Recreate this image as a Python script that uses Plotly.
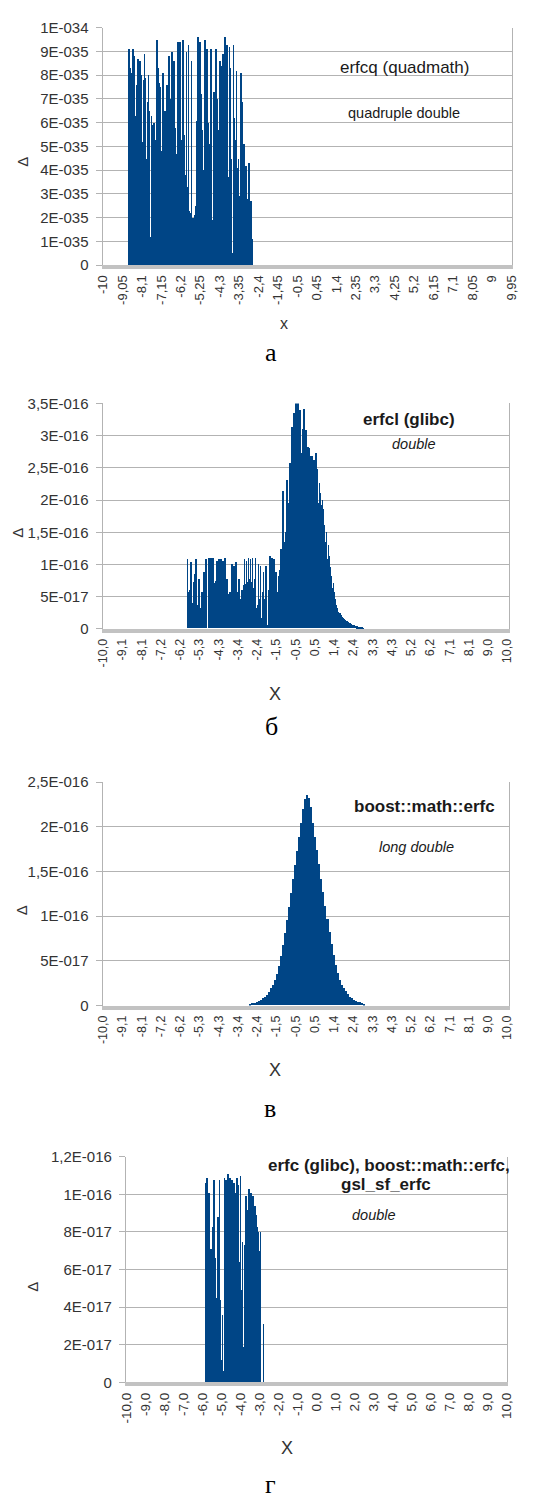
import plotly.graph_objects as go
import numpy as np

# ---------------- data ----------------
# x tick positions (categories) and their labels
TICK_POS = [-10, -9.05, -8.1, -7.15, -6.2, -5.25, -4.3, -3.35, -2.4, -1.45, -0.5,
            0.45, 1.4, 2.35, 3.3, 4.25, 5.2, 6.15, 7.1, 8.05, 9.0, 9.95]
TICK_A = ["-10", "-9,05", "-8,1", "-7,15", "-6,2", "-5,25", "-4,3", "-3,35", "-2,4", "-1,45",
          "-0,5", "0,45", "1,4", "2,35", "3,3", "4,25", "5,2", "6,15", "7,1", "8,05", "9", "9,95"]
TICK_B = ["-10,0", "-9,1", "-8,1", "-7,2", "-6,2", "-5,3", "-4,3", "-3,4", "-2,4", "-1,5",
          "-0,5", "0,5", "1,4", "2,4", "3,3", "4,3", "5,2", "6,2", "7,1", "8,1", "9,0", "10,0"]
TICK_G_POS = [-10, -9, -8, -7, -6, -5, -4, -3, -2, -1, 0, 1, 2, 3, 4, 5, 6, 7, 8, 9, 10]
TICK_G = ["-10,0", "-9,0", "-8,0", "-7,0", "-6,0", "-5,0", "-4,0", "-3,0", "-2,0", "-1,0", "0,0",
          "1,0", "2,0", "3,0", "4,0", "5,0", "6,0", "7,0", "8,0", "9,0", "10,0"]

# y tick labels
YT_A = ["0", "1E-035", "2E-035", "3E-035", "4E-035", "5E-035", "6E-035", "7E-035", "8E-035", "9E-035", "1E-034"]
YT_B = ["0", "5E-017", "1E-016", "1,5E-016", "2E-016", "2,5E-016", "3E-016", "3,5E-016"]
YT_C = ["0", "5E-017", "1E-016", "1,5E-016", "2E-016", "2,5E-016"]
YT_D = ["0", "2E-017", "4E-017", "6E-017", "8E-017", "1E-016", "1,2E-016"]

# (а) erfcq (quadmath): x from -8.75 step 0.05, values in units of 1e-35
A_X0, A_STEP = -8.75, 0.05
A_VAL = [9.1, 8.3, 8.1, 0.3, 9.1, 8.8, 6.3, 5.6, 7.6, 8.7,
         7.7, 8.6, 8.0, 5.2, 7.8, 8.9, 7.9, 4.5, 6.9, 8.0,
         6.5, 1.2, 6.3, 5.9, 6.0, 5.3, 4.9, 9.5, 8.3, 7.7,
         7.5, 4.8, 0.2, 8.1, 4.1, 6.5, 6.0, 7.6, 6.9, 8.8,
         5.8, 7.0, 9.0, 6.3, 8.6, 5.8, 4.7, 1.3, 9.4, 4.2,
         9.4, 5.3, 3.4, 9.5, 5.5, 3.8, 9.0, 3.3, 9.3, 2.3,
         2.2, 8.6, 2.0, 2.0, 2.1, 2.5, 6.1, 9.6, 5.8, 9.4,
         7.2, 5.7, 4.0, 2.5, 9.5, 7.2, 9.1, 6.0, 5.1, 2.3,
         9.1, 1.9, 0.4, 7.3, 7.0, 9.1, 7.0, 5.7, 0.2, 8.6,
         3.6, 8.4, 8.9, 2.7, 9.6, 2.7, 9.3, 3.7, 9.2, 8.3,
         4.5, 0.5, 9.3, 6.2, 5.3, 8.2, 4.1, 4.5, 2.9, 8.1,
         6.9, 2.9, 5.1, 2.9, 4.2, 2.7, 2.8, 4.3, 2.6, 2.7, 1.1]

# (б) erfcl (glibc): x from -5.85 step 0.05, values in units of 1e-17
B_X0, B_STEP = -5.85, 0.05
B_VAL = [10.8, 5.7, 6.0, 10.3, 4.0, 2.6, 7.2, 8.5, 10.8, 3.6,
         2.2, 7.7, 2.0, 3.1, 5.7, 3.0, 8.8, 2.5, 10.8, 0.0,
         0.0, 11.0, 3.6, 11.0, 5.7, 10.9, 3.1, 7.0, 7.3, 10.5,
         4.9, 10.8, 3.1, 10.8, 3.6, 10.5, 5.7, 11.0, 5.7, 7.7,
         2.6, 5.3, 5.7, 2.6, 10.0, 3.6, 9.7, 4.6, 10.3, 5.7,
         3.1, 7.7, 4.0, 4.6, 6.0, 6.7, 10.8, 6.9, 10.5, 7.2,
         11.0, 7.7, 10.8, 7.2, 10.9, 6.2, 7.7, 11.0, 3.1, 3.6,
         10.0, 4.6, 9.7, 1.6, 5.7, 8.8, 4.6, 9.7, 0.5, 0.0,
         6.0, 11.3, 5.7, 11.0, 1.6, 10.8, 2.6, 8.8, 5.7, 0.0,
         8.2, 9.0, 12.4, 9.8, 21.3, 10.8, 13.4, 14.9, 23.0, 17.0,
         19.5, 25.7, 21.6, 31.3, 23.0, 33.4, 25.0, 35.0, 28.8, 35.0,
         29.8, 33.9, 26.0, 27.2, 31.0, 34.0, 24.6, 30.8, 26.2, 28.2,
         28.0, 26.7, 25.2, 26.7, 23.5, 26.2, 22.0, 27.2, 24.7, 19.5,
         22.6, 21.0, 19.2, 20.0, 18.5, 16.0, 13.4, 15.0, 10.8, 13.0,
         11.3, 9.5, 8.2, 6.2, 7.0, 5.7, 4.6, 3.6, 3.1, 2.6,
         2.4, 2.1, 1.8, 1.6, 1.4, 1.3, 1.2, 1.1, 1.0, 0.9,
         0.8, 0.7, 0.6, 0.55, 0.5, 0.45, 0.4, 0.3, 0.25, 0.2,
         0.15, 0.1, 0.08, 0.05]

# (в) boost::math::erfc: x from -2.75 step 0.1, values in units of 1e-17
C_X0, C_STEP = -2.75, 0.1
C_VAL = [0.18, 0.25, 0.32, 0.42, 0.52, 0.63, 0.78, 0.95, 1.2, 1.55,
         1.9, 2.3, 2.8, 3.5, 4.4, 5.5, 6.8, 8.1, 9.6, 11.0,
         12.6, 14.1, 15.7, 17.3, 18.8, 20.4, 22.0, 23.1, 23.6, 23.2,
         22.2, 20.4, 18.9, 17.4, 15.8, 14.2, 12.7, 11.1, 9.7, 8.2,
         6.9, 5.6, 4.5, 3.6, 2.9, 2.3, 1.9, 1.6, 1.25, 0.98,
         0.8, 0.64, 0.52, 0.42, 0.33, 0.25, 0.18]

# (г) erfc (glibc), boost::math::erfc, gsl_sf_erfc: x from -5.85 step 0.05, units of 1e-17
D_X0, D_STEP = -5.85, 0.05
D_VAL = [10.6, 5.7, 10.9, 4.2, 10.1, 4.4, 7.1, 2.8, 8.3, 10.8,
         6.6, 4.5, 2.3, 8.8, 3.6, 10.8, 4.4, 1.2, 3.6, 0.6,
         10.9, 7.3, 10.8, 9.8, 11.1, 10.5, 10.9, 10.5, 10.8, 3.3,
         10.6, 2.0, 10.1, 10.9, 7.8, 10.5, 6.4, 11.0, 4.9, 7.5,
         1.9, 7.3, 3.6, 9.9, 9.2, 5.4, 10.3, 2.6, 10.1, 3.5,
         9.9, 6.3, 9.4, 8.9, 6.3, 8.3, 8.0, 7.0, 8.0, 0.0,
         0.0, 3.1]

# ---------------- layout helpers ----------------
W, H = 551, 1501
BAR = "#004586"
GRID = "#b3b3b3"
TXT = "#333333"
SANS = "Liberation Sans, Arial, sans-serif"
SERIF = "Liberation Serif, Times New Roman, serif"


def fx(px):
    return px / W


def fy(px):
    return 1 - px / H


def cats(x0, step, n):
    return [round(x0 + step * i, 3) for i in range(n)]


panels = [
    dict(l=98, r=518, t=19, b=259, xr=[-10.025, 9.975], tp=TICK_POS, tt=TICK_A, xfs=13,
         ymax=10, ytt=YT_A, ydt=1, x=cats(A_X0, A_STEP, len(A_VAL)), y=A_VAL, w=A_STEP * 0.72),
    dict(l=98, r=515, t=399, b=627, xr=[-10.025, 10.025], tp=TICK_POS, tt=TICK_B, xfs=12.5,
         ymax=35, ytt=YT_B, ydt=5, x=cats(B_X0, B_STEP, len(B_VAL)), y=B_VAL, w=B_STEP * 0.72),
    dict(l=98, r=515, t=782, b=1008, xr=[-10.025, 10.025], tp=TICK_POS, tt=TICK_B, xfs=12.5,
         ymax=25, ytt=YT_C, ydt=5, x=cats(C_X0, C_STEP, len(C_VAL)), y=C_VAL, w=C_STEP),
    dict(l=122, r=513, t=1161, b=1389, xr=[-10.03, 10.03], tp=TICK_G_POS, tt=TICK_G, xfs=13.5,
         ymax=12, ytt=YT_D, ydt=2, x=cats(D_X0, D_STEP, len(D_VAL)), y=D_VAL, w=D_STEP * 0.72),
]

fig = go.Figure()
layout = dict(
    width=W, height=H, margin=dict(l=0, r=0, t=0, b=0),
    paper_bgcolor="white", plot_bgcolor="white",
    showlegend=False, barmode="overlay", bargap=0,
    font=dict(family=SANS, color=TXT),
)
for i, p in enumerate(panels, start=1):
    xa = "x" if i == 1 else f"x{i}"
    ya = "y" if i == 1 else f"y{i}"
    fig.add_trace(go.Bar(x=p["x"], y=p["y"], width=p["w"], marker=dict(color=BAR, line=dict(width=0)),
                         xaxis=xa, yaxis=ya, hoverinfo="skip"))
    key = "" if i == 1 else str(i)
    layout["xaxis" + key] = dict(
        domain=[fx(p["l"]), fx(p["r"])], anchor=ya, range=p["xr"],
        tickmode="array", tickvals=p["tp"], ticktext=p["tt"], tickangle=-90,
        showgrid=False, zeroline=False,
        showline=True, linecolor="#c2c2c2", linewidth=4,
        ticks="", tickfont=dict(family=SANS, size=p["xfs"], color=TXT), ticklabelstandoff=1,
        layer="above traces",
    )
    yv = [k * p["ydt"] for k in range(len(p["ytt"]))]
    layout["yaxis" + key] = dict(
        domain=[fy(p["b"]), fy(p["t"])], anchor=xa, range=[0, p["ymax"]],
        tickmode="array", tickvals=yv, ticktext=p["ytt"],
        showgrid=True, gridcolor=GRID, gridwidth=1, zeroline=False,
        showline=True, linecolor=GRID, linewidth=1, mirror=True,
        ticks="outside", ticklen=6, tickcolor=GRID, ticklabelstandoff=4,
        tickfont=dict(family=SANS, size=15, color=TXT),
        layer="below traces",
    )


def ann(text, px, py, size, family=SANS, color="#1a1a1a", angle=0):
    return dict(text=text, x=fx(px), y=fy(py), xref="paper", yref="paper",
                xanchor="center", yanchor="middle", showarrow=False, textangle=angle,
                font=dict(family=family, size=size, color=color))


annotations = [
    ann("erfcq (quadmath)", 408, 59, 17),
    ann("quadruple double", 407, 105, 14.5),
    ann("<b>erfcl (glibc)</b>", 412, 415, 17),
    ann("<i>double</i>", 418, 440, 14.5),
    ann("<b>boost::math::erfc</b>", 428, 807, 17),
    ann("<i>long double</i>", 420, 848, 14.5),
    ann("<b>erfc (glibc), boost::math::erfc,</b>", 392, 1170, 17),
    ann("<b>gsl_sf_erfc</b>", 389, 1189, 17),
    ann("<i>double</i>", 377, 1220, 14.5),
    # axis titles
    ann("x", 284, 318, 16, color=TXT),
    ann("X", 275, 693, 18, color=TXT),
    ann("X", 275, 1073, 18, color=TXT),
    ann("X", 287, 1455, 18, color=TXT),
    ann("Δ", 16, 155, 15, color=TXT, angle=-90),
    ann("Δ", 11, 530, 15, color=TXT, angle=-90),
    ann("Δ", 15, 912, 15, color=TXT, angle=-90),
    ann("Δ", 26, 1292, 15, color=TXT, angle=-90),
    # captions
    ann("а", 271, 347, 26, family=SERIF, color="#000000"),
    ann("б", 271, 726, 26, family=SERIF, color="#000000"),
    ann("в", 270, 1112, 26, family=SERIF, color="#000000"),
    ann("г", 270, 1492, 26, family=SERIF, color="#000000"),
]
layout["annotations"] = annotations
fig.update_layout(**layout)
fig.write_html("out.html")
